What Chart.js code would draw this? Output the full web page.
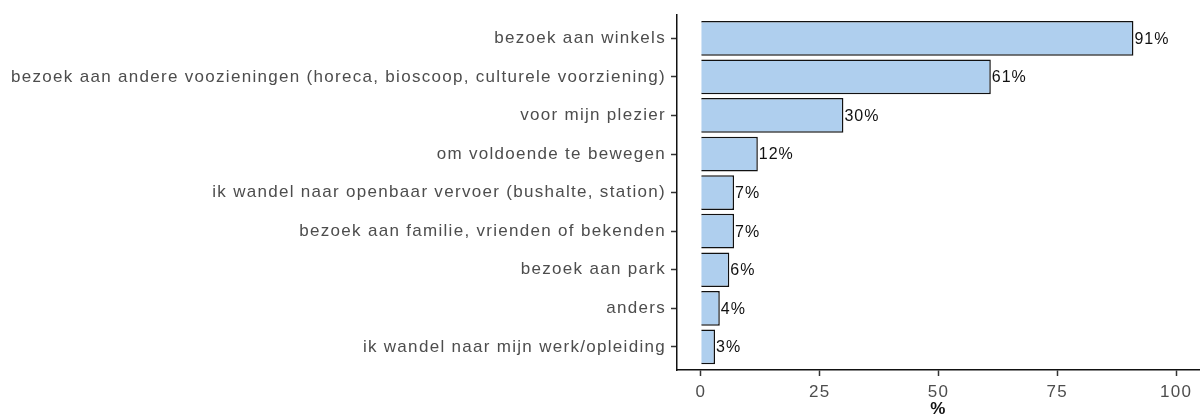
<!DOCTYPE html>
<html>
<head>
<meta charset="utf-8">
<script src="https://cdn.jsdelivr.net/npm/chart.js@4/dist/chart.umd.min.js"></script>
<style>
  html, body { margin: 0; padding: 0; background: #fff; }
  #wrap { width: 1200px; height: 420px; }
</style>
</head>
<body>
<div id="wrap"><canvas id="reden"></canvas></div>
<script>
const categories = [
    'bezoek aan winkels',
    'bezoek aan andere voozieningen (horeca, bioscoop, culturele voorziening)',
    'voor mijn plezier',
    'om voldoende te bewegen',
    'ik wandel naar openbaar vervoer (bushalte, station)',
    'bezoek aan familie, vrienden of bekenden',
    'bezoek aan park',
    'anders',
    'ik wandel naar mijn werk/opleiding'
];
const percentages = [91, 61, 30, 12, 7, 7, 6, 4, 3];
const xTicks = [0, 25, 50, 75, 100];

const FONT = '"Liberation Sans", Arial, sans-serif';

// the reference text is spaced quite wide
const spacing = {
    id: 'spacing',
    beforeLayout(chart) { chart.ctx.letterSpacing = '1.3px'; },
    beforeDraw(chart) { chart.ctx.letterSpacing = '1.3px'; }
};

// labels next to the bars
const valueLabels = {
    id: 'valueLabels',
    afterDatasetsDraw(chart) {
        const ctx = chart.ctx;
        const xs = chart.scales.x;
        const ys = chart.scales.y;
        ctx.save();
        ctx.letterSpacing = '1px';
        ctx.font = '16px ' + FONT;
        ctx.fillStyle = '#111';
        ctx.textAlign = 'left';
        ctx.textBaseline = 'middle';
        percentages.forEach((v, i) => {
            ctx.fillText(v + '%', xs.getPixelForValue(v) + 1, ys.getPixelForValue(i) + 1);
        });
        ctx.restore();
    }
};

new Chart(document.getElementById('reden'), {
    type: 'bar',
    data: {
        datasets: [{
            data: percentages.map((v, i) => ({ x: v, y: i })),
            backgroundColor: '#afcfee',
            borderColor: '#111',
            borderWidth: 1.5,
            barPercentage: 0.9,
            categoryPercentage: 1
        }]
    },
    options: {
        indexAxis: 'y',
        responsive: true,
        maintainAspectRatio: false,
        animation: false,
        layout: { padding: { top: 9, right: 0, left: 0, bottom: 0 } },
        scales: {
            x: {
                type: 'linear',
                min: -5,
                max: 105,
                afterBuildTicks: scale => { scale.ticks = xTicks.map(v => ({ value: v })); },
                afterFit: scale => { scale.height = 50; },
                grid: { drawOnChartArea: false, tickLength: 6, color: '#333', tickWidth: 1.5 },
                border: { color: '#111', width: 1.5 },
                ticks: {
                    color: '#4d4d4d',
                    font: { family: FONT, size: 17 },
                    padding: 6,
                    maxRotation: 0
                },
                title: {
                    display: true,
                    text: '%',
                    color: '#111',
                    padding: 0,
                    font: { family: FONT, size: 17, weight: 'bold' }
                }
            },
            y: {
                type: 'linear',
                reverse: true,
                offset: false,
                min: -0.6,
                max: 8.6,
                afterBuildTicks: scale => { scale.ticks = categories.map((_, i) => ({ value: i })); },
                afterFit: scale => { scale.width = 677; },
                grid: { offset: false, drawOnChartArea: false, tickLength: 6, color: '#333', tickWidth: 1.5 },
                border: { color: '#111', width: 1.5 },
                ticks: {
                    color: '#4d4d4d',
                    font: { family: FONT, size: 17 },
                    padding: 5,
                    autoSkip: false,
                    callback: value => categories[value]
                }
            }
        },
        plugins: {
            legend: { display: false },
            tooltip: { enabled: false }
        }
    },
    plugins: [spacing, valueLabels]
});
</script>
</body>
</html>
